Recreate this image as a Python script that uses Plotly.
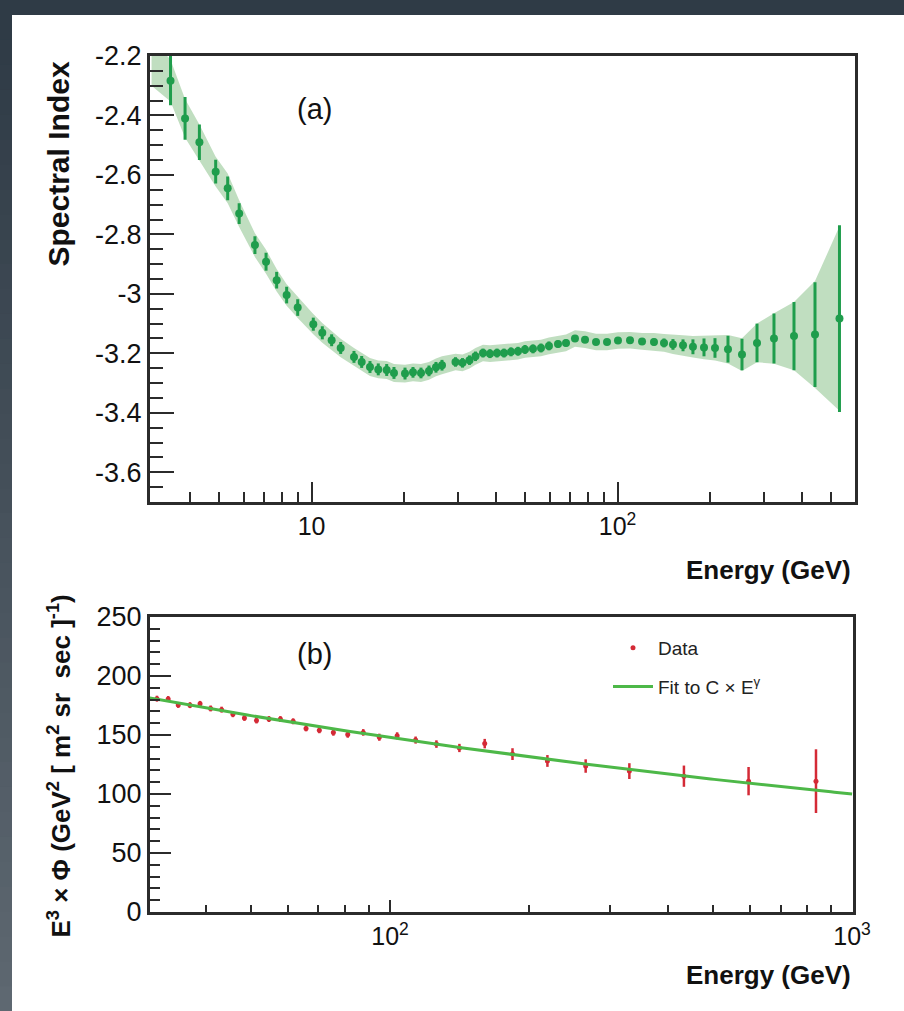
import numpy as np
import plotly.graph_objects as go

# ---------------- panel (a): spectral index vs energy ----------------
IDX_ENERGY = [3.46, 3.86, 4.30, 4.86, 5.32, 5.80, 6.53, 7.10, 7.69, 8.29, 9.01,
              10.13, 10.84, 11.63, 12.45, 13.76, 14.58, 15.52, 16.52, 17.60, 18.59,
              20.20, 21.45, 22.78, 24.19, 25.50, 26.68, 29.53, 31.13, 32.81, 34.33,
              36.32, 38.28, 40.36, 42.54, 44.84, 47.27, 49.83, 52.91, 56.19, 59.67,
              63.87, 67.83, 72.57, 78.27, 85.02, 92.36, 100.3, 109.8, 120.2, 131.5,
              141.8, 151.7, 163.6, 176.3, 191.6, 208.1, 229.5, 255.0, 285.5, 324.4,
              377.1, 441.7, 531.0]
IDX_VALUE = [-2.283, -2.410, -2.490, -2.589, -2.645, -2.730, -2.836, -2.892, -2.954,
             -3.004, -3.046, -3.102, -3.131, -3.156, -3.182, -3.212, -3.229, -3.246,
             -3.254, -3.256, -3.266, -3.268, -3.264, -3.266, -3.259, -3.247, -3.240,
             -3.229, -3.232, -3.223, -3.210, -3.199, -3.201, -3.199, -3.199, -3.195,
             -3.193, -3.187, -3.185, -3.182, -3.175, -3.169, -3.165, -3.150, -3.154,
             -3.162, -3.162, -3.157, -3.156, -3.160, -3.162, -3.165, -3.170, -3.173,
             -3.178, -3.180, -3.182, -3.186, -3.204, -3.165, -3.150, -3.142, -3.137,
             -3.083]
IDX_ERR = [0.083, 0.072, 0.060, 0.040, 0.040, 0.035, 0.030, 0.030, 0.028, 0.028,
           0.028, 0.022, 0.022, 0.020, 0.020, 0.020, 0.020, 0.020, 0.020, 0.020,
           0.020, 0.020, 0.018, 0.018, 0.018, 0.018, 0.018, 0.016, 0.016, 0.016,
           0.016, 0.015, 0.015, 0.015, 0.015, 0.015, 0.015, 0.015, 0.015, 0.015,
           0.015, 0.012, 0.012, 0.010, 0.010, 0.010, 0.010, 0.010, 0.010, 0.010,
           0.012, 0.015, 0.018, 0.020, 0.025, 0.030, 0.033, 0.045, 0.053, 0.065,
           0.084, 0.115, 0.176, 0.314]
# half width of the systematic band around each point
IDX_BAND = [0.070, 0.065, 0.060, 0.050, 0.050, 0.045, 0.040, 0.040, 0.038, 0.036,
            0.035, 0.034, 0.033, 0.032, 0.031, 0.030, 0.030, 0.030, 0.030, 0.030,
            0.030, 0.030, 0.030, 0.030, 0.030, 0.030, 0.030, 0.028, 0.028, 0.028,
            0.028, 0.028, 0.028, 0.028, 0.028, 0.028, 0.028, 0.028, 0.028, 0.028,
            0.028, 0.028, 0.028, 0.028, 0.028, 0.028, 0.028, 0.028, 0.028, 0.028,
            0.030, 0.030, 0.032, 0.034, 0.036, 0.040, 0.042, 0.048, 0.055, 0.065,
            0.085, 0.115, 0.180, 0.310]
# band edge at the low-energy end of the range
BAND_EDGE_E = 3.0
BAND_EDGE_LO = -2.30
BAND_EDGE_HI = -2.14

IDX_TICKS = [-2.2, -2.4, -2.6, -2.8, -3.0, -3.2, -3.4, -3.6]
IDX_TICKTEXT = ["-2.2", "-2.4", "-2.6", "-2.8", "-3", "-3.2", "-3.4", "-3.6"]

# ---------------- panel (b): E^3 x flux ----------------
FLUX_ENERGY = [31.3, 33.1, 34.8, 36.9, 38.8, 40.9, 43.2, 45.7, 48.4, 51.4, 54.7,
               57.9, 61.7, 65.8, 70.3, 75.4, 81.0, 87.5, 94.8, 103.6, 113.6, 126.0,
               141.3, 160.3, 184.1, 219.1, 265.1, 329.6, 432.6, 597.0, 835.4]
FLUX_VALUE = [180.8, 180.5, 175.5, 175.3, 176.4, 172.5, 171.5, 167.6, 164.5, 162.3,
              163.5, 163.5, 161.6, 155.6, 154.0, 152.2, 150.5, 152.2, 148.1, 149.3,
              145.7, 142.3, 139.0, 142.7, 133.8, 128.0, 123.7, 119.4, 115.1, 110.9,
              110.9]
FLUX_ERR = [2.5, 2.5, 2.5, 2.5, 2.5, 2.5, 2.5, 2.5, 2.5, 2.5, 2.5, 2.5, 2.5, 2.5,
            2.5, 2.8, 2.8, 2.8, 3.0, 3.0, 3.0, 3.2, 3.5, 4.0, 5.0, 5.0, 5.7, 6.7,
            9.0, 12.0, 27.0]
FIT_C = 323.6
FIT_GAMMA = -3.17

FONT = "Liberation Sans, Arial, Helvetica, sans-serif"
NARROW = "Liberation Sans Narrow, Arial Narrow, Liberation Sans, sans-serif"
GREEN = "#1f9d4c"
BAND = "rgba(150,200,150,0.6)"
RED = "#d42a36"
FIT_GREEN = "#4db848"
FRAME = "#2b2b2b"
INK = "#111111"

W, H = 904, 1011


def px_x(p):
    return p / W


def px_y(p):
    return 1 - p / H


fig = go.Figure()

# systematic band (lower edge, then upper edge filled down to it)
band_e = [BAND_EDGE_E] + IDX_ENERGY
band_lo = [BAND_EDGE_LO] + [v - b for v, b in zip(IDX_VALUE, IDX_BAND)]
band_hi = [BAND_EDGE_HI] + [v + b for v, b in zip(IDX_VALUE, IDX_BAND)]
fig.add_trace(go.Scatter(x=band_e, y=band_lo, mode="lines", line=dict(width=0),
                         hoverinfo="skip", showlegend=False, xaxis="x", yaxis="y"))
fig.add_trace(go.Scatter(x=band_e, y=band_hi, mode="lines", line=dict(width=0),
                         fill="tonexty", fillcolor=BAND, hoverinfo="skip",
                         showlegend=False, xaxis="x", yaxis="y"))
fig.add_trace(go.Scatter(
    x=IDX_ENERGY, y=IDX_VALUE, mode="markers",
    marker=dict(color=GREEN, size=8),
    error_y=dict(type="data", array=IDX_ERR, color=GREEN, thickness=3, width=0),
    showlegend=False, xaxis="x", yaxis="y"))

# panel (b) data and fit
fig.add_trace(go.Scatter(
    x=FLUX_ENERGY, y=FLUX_VALUE, mode="markers", name="Data", legendgroup="data",
    marker=dict(color=RED, size=5),
    error_y=dict(type="data", array=FLUX_ERR, color=RED, thickness=2.5, width=0),
    xaxis="x2", yaxis="y2"))
fit_e = np.logspace(np.log10(30.0), 3.0, 200)
fig.add_trace(go.Scatter(
    x=fit_e, y=FIT_C * fit_e ** (FIT_GAMMA + 3), mode="lines", legendgroup="fit",
    name="Fit to C × E<sup>γ</sup>", line=dict(color=FIT_GREEN, width=3),
    xaxis="x2", yaxis="y2"))

tickfont = dict(family=FONT, size=27, color=INK)
frame = dict(showline=True, mirror=True, linewidth=3, linecolor=FRAME,
             showgrid=False, zeroline=False, ticks="inside", tickcolor=FRAME,
             tickwidth=2, tickfont=tickfont, automargin=False)

a_minor_x = [4, 5, 6, 7, 8, 9, 20, 30, 40, 50, 60, 70, 80, 90, 200, 300, 400, 500]
b_minor_x = [40, 50, 60, 70, 80, 90, 200, 300, 400, 500, 600, 700, 800, 900]

fig.update_layout(
    width=W, height=H, autosize=False,
    margin=dict(l=0, r=0, t=0, b=0, pad=0, autoexpand=False),
    paper_bgcolor="white", plot_bgcolor="white",
    font=dict(family=FONT, color=INK),
    xaxis=dict(frame, type="log", domain=[px_x(150), px_x(854.6)],
               range=[np.log10(2.965), np.log10(595)], anchor="y",
               tickvals=[10, 100], ticktext=["10", "10<sup>2</sup>"], ticklen=20,
               tickfont=dict(family=FONT, size=25, color=INK),
               minor=dict(tickvals=a_minor_x, ticks="inside", ticklen=10,
                          tickwidth=2, tickcolor=FRAME)),
    yaxis=dict(frame, domain=[px_y(502), px_y(56)], range=[-3.70, -2.2], anchor="x",
               tickvals=IDX_TICKS, ticktext=IDX_TICKTEXT, ticklen=24,
               minor=dict(dtick=0.05, tick0=-2.2, ticks="inside", ticklen=13,
                          tickwidth=2, tickcolor=FRAME)),
    xaxis2=dict(frame, type="log", domain=[px_x(150), px_x(853)],
                range=[1.4805, 3.002], anchor="y2",
                tickvals=[100, 1000], ticktext=["10<sup>2</sup>", "10<sup>3</sup>"],
                ticklen=12, tickfont=dict(family=FONT, size=25, color=INK),
                minor=dict(tickvals=b_minor_x, ticks="inside", ticklen=7,
                           tickwidth=2, tickcolor=FRAME)),
    yaxis2=dict(frame, domain=[px_y(912), px_y(617)], range=[0, 250], anchor="x2",
                dtick=50, tick0=0, ticklen=21,
                minor=dict(dtick=10, tick0=0, ticks="inside", ticklen=10,
                           tickwidth=2, tickcolor=FRAME)),
    legend=dict(x=px_x(608), y=px_y(629), xanchor="left", yanchor="top",
                traceorder="grouped", bgcolor="rgba(0,0,0,0)",
                font=dict(family=NARROW, size=19, color="#222"),
                itemwidth=40, tracegroupgap=11),
)

# page border: dark strip along the top and a shaded strip down the left side
shapes = [dict(type="rect", xref="paper", yref="paper", x0=0, x1=1,
               y0=px_y(15), y1=1, fillcolor="#2f3b46", line=dict(width=0))]
n_steps = 40
for i in range(n_steps):
    t = i / (n_steps - 1)
    r = int(47 + t * (94 - 47))
    g = int(59 + t * (104 - 59))
    b = int(70 + t * (113 - 70))
    y_top = 15 + (H - 15) * i / n_steps
    y_bot = 15 + (H - 15) * (i + 1) / n_steps
    shapes.append(dict(type="rect", xref="paper", yref="paper", x0=0, x1=px_x(12),
                       y0=px_y(y_bot + 1), y1=px_y(y_top), fillcolor=f"rgb({r},{g},{b})",
                       line=dict(width=0)))
fig.update_layout(shapes=shapes)

title_font = dict(family=FONT, size=26, color=INK)
annotations = [
    dict(text="<b>Spectral Index</b>", x=px_x(58), y=px_y(60), xref="paper",
         yref="paper", textangle=-90, xanchor="center", yanchor="top",
         showarrow=False, font=dict(family=FONT, size=30, color=INK)),
    dict(text="<b>Energy (GeV)</b>", x=px_x(853), y=px_y(570), xref="paper",
         yref="paper", xanchor="right", yanchor="middle", showarrow=False,
         font=title_font),
    dict(text="<b>Energy (GeV)</b>", x=px_x(853), y=px_y(975), xref="paper",
         yref="paper", xanchor="right", yanchor="middle", showarrow=False,
         font=title_font),
    dict(text="<b>E<sup>3</sup> × Φ (GeV<sup>2</sup> [ m<sup>2</sup> sr  sec ]<sup>-1</sup>)</b>",
         x=px_x(60), y=px_y(593), xref="paper", yref="paper", textangle=-90,
         xanchor="center", yanchor="top", showarrow=False,
         font=dict(family=FONT, size=26, color=INK)),
    dict(text="(a)", x=px_x(314), y=px_y(109), xref="paper", yref="paper",
         xanchor="center", yanchor="middle",
         showarrow=False, font=dict(family=FONT, size=29, color=INK)),
    dict(text="(b)", x=px_x(314), y=px_y(654), xref="paper", yref="paper",
         xanchor="center", yanchor="middle",
         showarrow=False, font=dict(family=FONT, size=29, color=INK)),
]
fig.update_layout(annotations=annotations)

# keep the page flush with the window edges
page_css = ("document.body.style.margin='0';document.body.style.padding='0';"
            "document.documentElement.style.overflow='hidden';"
            "document.body.style.overflow='hidden';")
fig.write_html("out.html", post_script=page_css)
